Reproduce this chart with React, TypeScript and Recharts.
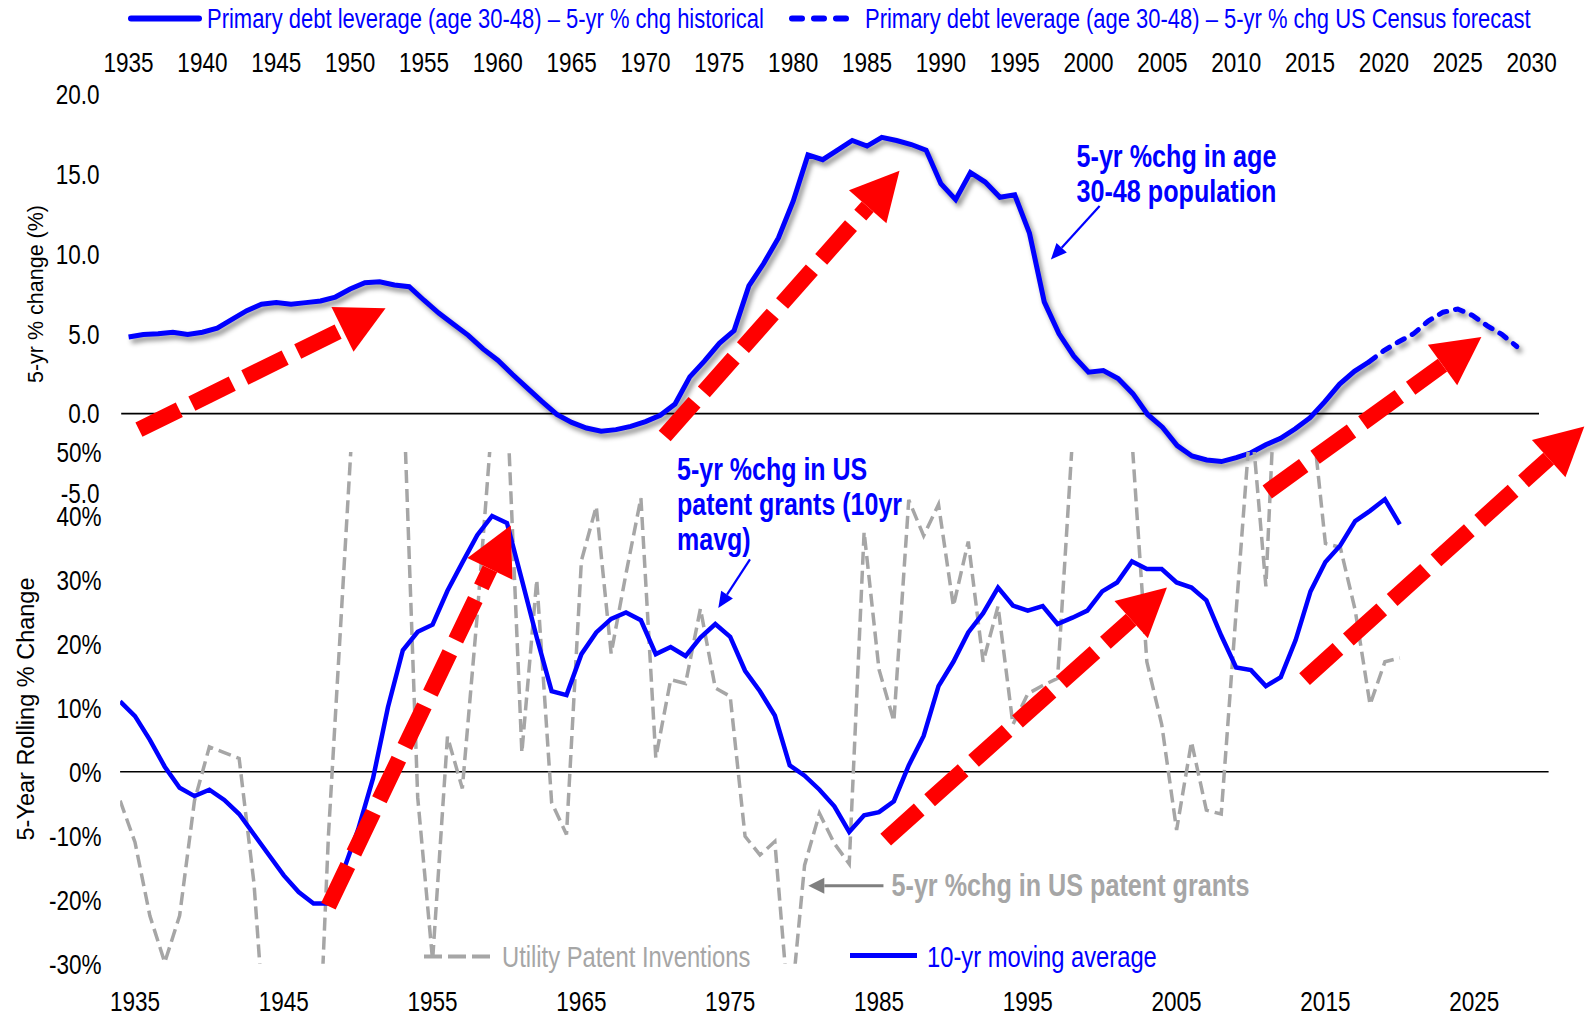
import React from 'react';
import { LineChart, Line, XAxis, YAxis, ReferenceLine } from 'recharts';

// Two Excel panels stacked into one picture: demographic 5-yr change on top,
// patent-grant 5-yr change below, with hand-drawn red trend arrows over both.

const W = 1589;
const H = 1015;

const BLUE = '#0000FF';
const GRAY = '#A6A6A6';
const RED = '#FF0000';
// no Arial Narrow here: Arial-metric font squeezed horizontally stands in for it
const ARIAL = "'Liberation Sans', Arial, sans-serif";
const SQUEEZE = 0.82;

// ---- top panel: 5-yr % change, age 30-48 population
const POP_YEARS = [
  1935, 1936, 1937, 1938, 1939, 1940, 1941, 1942, 1943, 1944,
  1945, 1946, 1947, 1948, 1949, 1950, 1951, 1952, 1953, 1954,
  1955, 1956, 1957, 1958, 1959, 1960, 1961, 1962, 1963, 1964,
  1965, 1966, 1967, 1968, 1969, 1970, 1971, 1972, 1973, 1974,
  1975, 1976, 1977, 1978, 1979, 1980, 1981, 1982, 1983, 1984,
  1985, 1986, 1987, 1988, 1989, 1990, 1991, 1992, 1993, 1994,
  1995, 1996, 1997, 1998, 1999, 2000, 2001, 2002, 2003, 2004,
  2005, 2006, 2007, 2008, 2009, 2010, 2011, 2012, 2013, 2014,
  2015, 2016, 2017, 2018, 2019, 2020, 2021, 2022, 2023, 2024,
  2025, 2026, 2027, 2028, 2029,
];
const POP_CHG = [
  4.8, 4.95, 5.0, 5.1, 4.95, 5.1, 5.35, 5.9, 6.45, 6.85,
  6.95, 6.85, 6.95, 7.05, 7.3, 7.8, 8.2, 8.25, 8.05, 7.95,
  7.1, 6.3, 5.6, 4.9, 4.05, 3.35, 2.45, 1.6, 0.75, -0.05,
  -0.55, -0.9, -1.1, -1.0, -0.8, -0.5, -0.1, 0.6, 2.3, 3.3,
  4.4, 5.2, 8.0, 9.4, 11.0, 13.3, 16.2, 15.9, 16.5, 17.1,
  16.75, 17.3, 17.1, 16.85, 16.5, 14.4, 13.4, 15.1, 14.5, 13.55,
  13.7, 11.3, 7.0, 5.0, 3.6, 2.6, 2.7, 2.2, 1.25, -0.05,
  -0.85, -2.0, -2.65, -2.9, -3.0, -2.75, -2.45, -1.95, -1.55, -0.95,
  -0.25, 0.75, 1.85, 2.65, 3.25, 3.95, 4.5, 5.0, 5.8, 6.35,
  6.55, 6.15, 5.5, 4.95, 4.2,
];
const FORECAST_FROM = 2019;
const TOP_X_TICKS = [1935, 1940, 1945, 1950, 1955, 1960, 1965, 1970, 1975, 1980, 1985, 1990, 1995, 2000, 2005, 2010, 2015, 2020, 2025, 2030];
const TOP_Y_TICKS = [-5, 0, 5, 10, 15, 20];

// ---- bottom panel: US patent grants
const PAT_YEARS = [
  1934, 1935, 1936, 1937, 1938, 1939, 1940, 1941, 1942, 1943,
  1944, 1945, 1946, 1947, 1948, 1949, 1950, 1951, 1952, 1953,
  1954, 1955, 1956, 1957, 1958, 1959, 1960, 1961, 1962, 1963,
  1964, 1965, 1966, 1967, 1968, 1969, 1970, 1971, 1972, 1973,
  1974, 1975, 1976, 1977, 1978, 1979, 1980, 1981, 1982, 1983,
  1984, 1985, 1986, 1987, 1988, 1989, 1990, 1991, 1992, 1993,
  1994, 1995, 1996, 1997, 1998, 1999, 2000, 2001, 2002, 2003,
  2004, 2005, 2006, 2007, 2008, 2009, 2010, 2011, 2012, 2013,
  2014, 2015, 2016, 2017, 2018, 2019, 2020,
];
const PAT_MAVG = [
  11.0, 8.7, 5.0, 0.8, -2.5, -3.8, -2.8, -4.4, -6.6, -9.8,
  -13.0, -16.2, -18.8, -20.6, -20.6, -15.5, -9.0, -1.0, 10.1, 19.0,
  21.9, 23.0, 28.3, 32.7, 37.0, 40.0, 38.9, 30.0, 21.0, 12.6,
  12.0, 18.4, 21.8, 23.9, 24.9, 23.7, 18.4, 19.5, 18.1, 21.0,
  23.1, 21.1, 15.8, 12.6, 8.8, 1.0, -0.6, -2.8, -5.4, -9.4,
  -6.8, -6.3, -4.6, 1.0, 5.6, 13.4, 17.2, 21.8, 24.8, 28.8,
  26.0, 25.2, 25.9, 23.1, 24.1, 25.2, 28.2, 29.6, 32.9, 31.7,
  31.7, 29.6, 28.8, 26.8, 21.3, 16.3, 15.9, 13.4, 14.8, 20.6,
  28.2, 32.8, 35.4, 39.2, 40.8, 42.6, 38.7,
];
const PAT_5YR = [
  -4.5, -11, -22.5, -29.8, -22.5, -4.5, 3.9, 3.0, 2.1, -17.5,
  -50, -58, -60, -65, -10, 30, 70, 85, 78, 62,
  -4, -29.5, 5.5, -2.6, 24.5, 55, 58, 3.0, 30.0, -4.8,
  -9.8, 33.0, 41.5, 18.5, 31.0, 42.8, 2.2, 14.4, 13.8, 25.5,
  13.1, 11.8, -10.1, -13.0, -10.9, -39, -14.6, -6.5, -11.2, -14.4,
  37.5, 16.0, 7.9, 42.5, 36.9, 41.8, 25.9, 36.0, 17.2, 25.9,
  7.4, 12.2, 13.5, 14.6, 52, 68, 72, 80, 52, 17.2,
  7.4, -9.1, 4.7, -6.0, -6.6, 25, 56, 29, 80, 80,
  58, 35.7, 35.1, 25.3, 10.5, 17.2, 17.8,
];
const BOT_X_TICKS = [1935, 1945, 1955, 1965, 1975, 1985, 1995, 2005, 2015, 2025];
const BOT_Y_TICKS = [-30, -20, -10, 0, 10, 20, 30, 40, 50];

// red trend arrows, [year, value] in each panel's own units (tail -> tip)
const TOP_ARROWS = [
  [[1935.7, -1.0], [1952.4, 6.6]],
  [[1971.3, -1.4], [1987.2, 15.2]],
  [[2012.1, -4.9], [2026.6, 4.8]],
];
const BOT_ARROWS = [
  [[1948.0, -21.0], [1960.25, 38.5]],
  [[1985.45, -10.6], [2004.35, 28.8]],
  [[2013.6, 14.5], [2032.4, 54.0]],
];
// thin call-out arrows
const POP_CALLOUT = [[2000.75, 13.0], [1997.45, 9.65]];
const MAVG_CALLOUT = [[1976.33, 33.2], [1974.2, 25.6]];
const GRANTS_CALLOUT = [[1985.3, -17.8], [1980.25, -17.8]];

const popRows = POP_YEARS.map((year, i) => ({
  year,
  hist: year <= FORECAST_FROM ? POP_CHG[i] : null,
  fcst: year >= FORECAST_FROM ? POP_CHG[i] : null,
}));
const patRows = PAT_YEARS.map((year, i) => ({ year, mavg: PAT_MAVG[i], chg: PAT_5YR[i] }));

// plot boxes (px on the page)
const TOP_BOX = { left: 121.2, right: 1539, top: 94.2, bottom: 493.5 };
const BOT_BOX = { left: 120.1, right: 1548.6, top: 452, bottom: 963.7 };
const AXIS_W = 80;
const AXIS_H = 40;

type ArrowStyle = { color: string; width: number; head: number; half: number; dash?: string };
const arrowShape = (s: ArrowStyle) => (p: any) => {
  const { x1, y1, x2, y2 } = p;
  if (![x1, y1, x2, y2].every((v) => Number.isFinite(v))) return <g />;
  const len = Math.hypot(x2 - x1, y2 - y1);
  const ux = (x2 - x1) / len;
  const uy = (y2 - y1) / len;
  const bx = x2 - ux * s.head;
  const by = y2 - uy * s.head;
  const pts = [[x2, y2], [bx - uy * s.half, by + ux * s.half], [bx + uy * s.half, by - ux * s.half]];
  return (
    <g>
      <line x1={x1} y1={y1} x2={bx} y2={by} stroke={s.color} strokeWidth={s.width} strokeDasharray={s.dash} />
      <polygon points={pts.map((q) => q.join(',')).join(' ')} fill={s.color} />
    </g>
  );
};
const redArrow = arrowShape({ color: RED, width: 16, head: 48, half: 25, dash: '45 14' });
const blueCallout = arrowShape({ color: BLUE, width: 2.2, head: 16, half: 7 });
const grayCallout = arrowShape({ color: '#7F7F7F', width: 3, head: 16, half: 8 });

const seg = (a: number[][]) => [{ x: a[0][0], y: a[0][1] }, { x: a[1][0], y: a[1][1] }];

type NProps = { x: number; y: number; anchor?: 'start' | 'middle' | 'end'; size?: number; fill?: string; bold?: boolean; children: React.ReactNode };
function NText({ x, y, anchor = 'start', size = 27.5, fill = '#000', bold = false, children }: NProps) {
  return (
    <text transform={`translate(${x} ${y}) scale(${SQUEEZE} 1)`} textAnchor={anchor} dominantBaseline="central"
      fontFamily={ARIAL} fontSize={size} fontWeight={bold ? 700 : 400} fill={fill}>
      {children}
    </text>
  );
}

const xTick = (y: number) => (p: any) => <NText x={p.x} y={y} anchor="middle">{p.payload.value}</NText>;
const yTick = (x: number, fmt: (v: number) => string) => (p: any) => <NText x={x} y={p.y} anchor="end">{fmt(p.payload.value)}</NText>;

const abs: React.CSSProperties = { position: 'absolute', left: 0, top: 0 };

export default function App() {
  const topMargin = { left: TOP_BOX.left - AXIS_W, right: W - TOP_BOX.right, top: TOP_BOX.top - AXIS_H, bottom: H - TOP_BOX.bottom };
  const botMargin = { left: BOT_BOX.left - AXIS_W, right: W - BOT_BOX.right, top: BOT_BOX.top, bottom: H - BOT_BOX.bottom - AXIS_H };
  return (
    <div style={{ ...abs, width: W, height: H, background: '#fff', overflow: 'hidden' }}>
      <style>{'.pop-chart path.recharts-curve{filter:drop-shadow(3px 4px 2.5px rgba(0,0,0,0.45))}'}</style>

      <div className="pop-chart" style={abs}>
        <LineChart width={W} height={H} data={popRows} margin={topMargin}>
          <XAxis dataKey="year" type="number" orientation="top" domain={[1934.5, 2030.5]} allowDataOverflow ticks={TOP_X_TICKS} interval={0} height={AXIS_H} axisLine={false} tickLine={false} tick={xTick(62)} />
          <YAxis type="number" domain={[-5, 20]} allowDataOverflow ticks={TOP_Y_TICKS} interval={0} width={AXIS_W} axisLine={false} tickLine={false} tick={yTick(99.5, (v) => v.toFixed(1))} />
          <ReferenceLine y={0} stroke="#000" strokeWidth={1.6} />
          <Line dataKey="hist" stroke={BLUE} strokeWidth={5} dot={false} activeDot={false} isAnimationActive={false} />
          <Line dataKey="fcst" stroke={BLUE} strokeWidth={5} strokeDasharray="8 9" strokeLinecap="round" dot={false} activeDot={false} isAnimationActive={false} />
        </LineChart>
      </div>

      <div style={abs}>
        <LineChart width={W} height={H} data={patRows} margin={botMargin}>
          <XAxis dataKey="year" type="number" domain={[1934, 2030]} allowDataOverflow ticks={BOT_X_TICKS} interval={0} height={AXIS_H} axisLine={false} tickLine={false} tick={xTick(1001)} />
          <YAxis type="number" domain={[-30, 50]} allowDataOverflow ticks={BOT_Y_TICKS} interval={0} width={AXIS_W} axisLine={false} tickLine={false} tick={yTick(101.5, (v) => `${v}%`)} />
          <ReferenceLine y={0} stroke="#000" strokeWidth={1.4} />
          <Line dataKey="chg" stroke={GRAY} strokeWidth={3.5} strokeDasharray="13 6" dot={false} activeDot={false} isAnimationActive={false} />
          <Line dataKey="mavg" stroke={BLUE} strokeWidth={4.5} dot={false} activeDot={false} isAnimationActive={false} />
          <ReferenceLine segment={seg(MAVG_CALLOUT)} ifOverflow="visible" shape={blueCallout} />
          <ReferenceLine segment={seg(GRANTS_CALLOUT)} ifOverflow="visible" shape={grayCallout} />
          {BOT_ARROWS.map((a, i) => (
            <ReferenceLine key={i} segment={seg(a)} ifOverflow="visible" shape={redArrow} />
          ))}
        </LineChart>
      </div>

      {/* same scales as the top panel, drawn last so the arrows sit over everything */}
      <div style={abs}>
        <LineChart width={W} height={H} data={popRows} margin={topMargin}>
          <XAxis dataKey="year" type="number" orientation="top" domain={[1934.5, 2030.5]} allowDataOverflow height={AXIS_H} axisLine={false} tickLine={false} tick={false} />
          <YAxis type="number" domain={[-5, 20]} allowDataOverflow width={AXIS_W} axisLine={false} tickLine={false} tick={false} />
          <Line dataKey="hist" stroke="none" dot={false} activeDot={false} isAnimationActive={false} />
          <ReferenceLine segment={seg(POP_CALLOUT)} ifOverflow="visible" shape={blueCallout} />
          {TOP_ARROWS.map((a, i) => (
            <ReferenceLine key={i} segment={seg(a)} ifOverflow="visible" shape={redArrow} />
          ))}
        </LineChart>
      </div>

      <svg style={{ ...abs, pointerEvents: 'none' }} width={W} height={H}>
        {/* top legend */}
        <line x1={131} y1={18.5} x2={199} y2={18.5} stroke={BLUE} strokeWidth={6} strokeLinecap="round" />
        <NText x={207} y={18.5} size={26.8} fill={BLUE}>Primary debt leverage (age 30-48) – 5-yr % chg historical</NText>
        <line x1={792} y1={18.5} x2={846} y2={18.5} stroke={BLUE} strokeWidth={6} strokeLinecap="round" strokeDasharray="10 12" />
        <NText x={865} y={18.5} size={26.8} fill={BLUE}>Primary debt leverage (age 30-48) – 5-yr % chg US Census forecast</NText>

        {/* axis titles */}
        <text transform="translate(35.5 294) rotate(-90)" textAnchor="middle" dominantBaseline="central" fontFamily={ARIAL} fontSize={21.5} fill="#000">5-yr % change (%)</text>
        <text transform="translate(25.5 709) rotate(-90)" textAnchor="middle" dominantBaseline="central" fontFamily={ARIAL} fontSize={23.5} fill="#000">5-Year Rolling % Change</text>

        {/* call-outs */}
        <NText x={1076.5} y={157} size={30.7} bold fill={BLUE}>5-yr %chg in age</NText>
        <NText x={1076.5} y={192} size={30.7} bold fill={BLUE}>30-48 population</NText>
        <NText x={677} y={469.5} size={30.5} bold fill={BLUE}>5-yr %chg in US</NText>
        <NText x={677} y={505} size={30.5} bold fill={BLUE}>patent grants (10yr</NText>
        <NText x={677} y={540} size={30.5} bold fill={BLUE}>mavg)</NText>
        <NText x={891.5} y={886} size={30.7} bold fill={GRAY}>5-yr %chg in US patent grants</NText>

        {/* bottom legend */}
        <line x1={424} y1={956.5} x2={490} y2={956.5} stroke={GRAY} strokeWidth={4} strokeDasharray="18 6" />
        <NText x={502} y={957.5} size={29} fill={GRAY}>Utility Patent Inventions</NText>
        <line x1={850} y1={955.5} x2={917} y2={955.5} stroke={BLUE} strokeWidth={5} />
        <NText x={927} y={957.5} size={29} fill={BLUE}>10-yr moving average</NText>
      </svg>
    </div>
  );
}
